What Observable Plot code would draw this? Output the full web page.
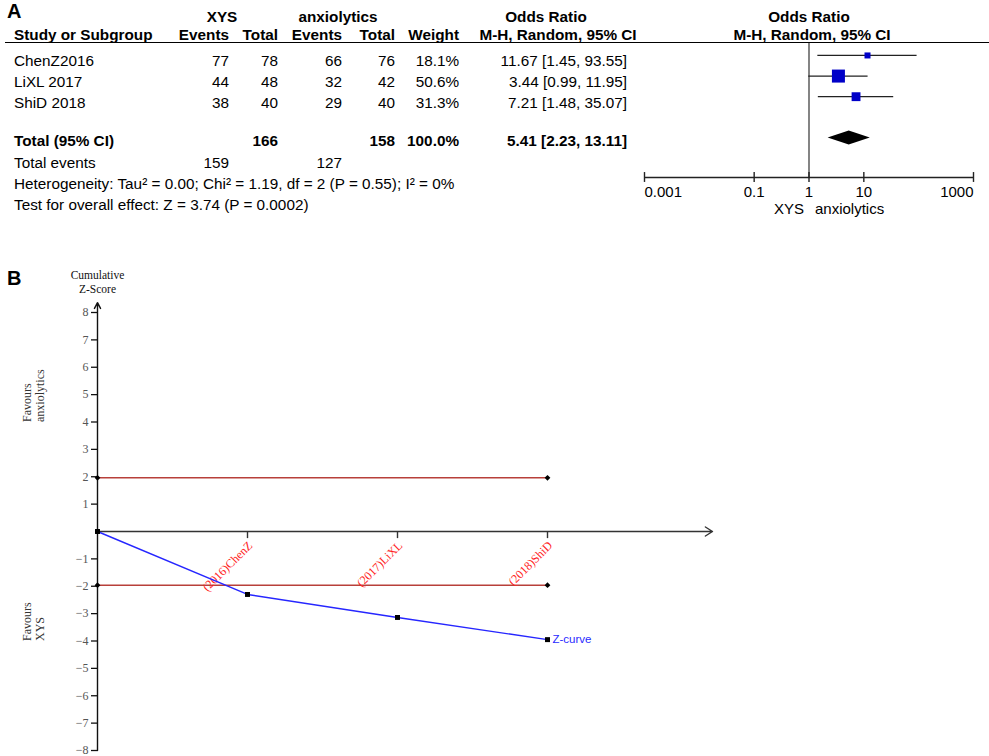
<!DOCTYPE html>
<html><head><meta charset="utf-8">
<script src="https://cdn.jsdelivr.net/npm/d3@7"></script>
<script src="https://cdn.jsdelivr.net/npm/@observablehq/plot@0.6"></script>
<style>
html,body{margin:0;padding:0;background:#fff;}
#root{position:relative;width:989px;height:756px;overflow:hidden;font-family:"Liberation Sans",Arial,sans-serif;color:#000;}
.t{position:absolute;white-space:nowrap;line-height:1;}
</style></head><body><div id="root"></div>
<script>
// ---------- Panel A data ----------
const studies = ["ChenZ2016", "LiXL 2017", "ShiD 2018"];
const xysEvents = [77, 44, 38];
const xysTotal = [78, 48, 40];
const anxEvents = [66, 32, 29];
const anxTotal = [76, 42, 40];
const weights = [18.1, 50.6, 31.3];
const orEst = [11.67, 3.44, 7.21];
const orLow = [1.45, 0.99, 1.48];
const orHigh = [93.55, 11.95, 35.07];
const pooledOR = 5.41, pooledLow = 2.23, pooledHigh = 13.11;
const totalN = [166, 158];
const totalEvents = [159, 127];
const tau2 = "0.00", chi2 = "1.19", dfHet = 2, pHet = "0.55", i2 = "0%";
const zOverall = "3.74", pOverall = "0.0002";
const forestTicks = [0.001, 0.1, 1, 10, 1000];
const forestTickLabels = ["0.001", "0.1", "1", "10", "1000"];
const favourLabels = ["XYS", "anxiolytics"];

// ---------- Panel B data ----------
const tsaLabels = ["(2016)ChenZ", "(2017)LiXL", "(2018)ShiD"];
const zCurve = [0, -2.30, -3.14, -3.95];
const zBoundary = [1.96, -1.96];
const zTicks = [8, 7, 6, 5, 4, 3, 2, 1, -1, -2, -3, -4, -5, -6, -7, -8];
const sideLabels = ["Favours\nanxiolytics", "Favours\nXYS"];

// ---------- helpers ----------
const root = document.getElementById("root");
function put(txt, x, base, o = {}) {
  const size = o.size ?? 15.3;
  const d = document.createElement("div");
  d.className = "t";
  d.textContent = txt;
  d.style.fontSize = size + "px";
  if (o.bold) d.style.fontWeight = "bold";
  if (o.family) d.style.fontFamily = o.family;
  if (o.color) d.style.color = o.color;
  d.style.top = (base - 0.8465 * size) + "px";
  const a = o.anchor ?? "start";
  if (a === "end") d.style.right = (989 - x) + "px";
  else { d.style.left = x + "px"; if (a === "middle") d.style.transform = "translateX(-50%)"; }
  root.appendChild(d);
}
function place(el, left, top) {
  el.style.position = "absolute";
  el.style.left = left + "px";
  el.style.top = top + "px";
  el.style.maxWidth = "none";
  root.appendChild(el);
}
const f2 = d3.format(".2f"), f1 = d3.format(".1f");

// ---------- Panel A table ----------
put("A", 7, 18, {bold: true, size: 20});
put("XYS", 222, 22, {bold: true, anchor: "middle"});
put("anxiolytics", 338, 22, {bold: true, anchor: "middle"});
put("Odds Ratio", 546, 22, {bold: true, anchor: "middle"});
put("Odds Ratio", 809, 22, {bold: true, anchor: "middle"});
put("Study or Subgroup", 14, 40, {bold: true});
const colRight = [229, 278, 342, 395, 459, 627];
["Events", "Total", "Events", "Total", "Weight"].forEach((h, i) => put(h, colRight[i], 40, {bold: true, anchor: "end"}));
put("M-H, Random, 95% CI", 558, 40, {bold: true, anchor: "middle"});
put("M-H, Random, 95% CI", 812, 40, {bold: true, anchor: "middle"});
const hl = document.createElement("div");
hl.style.cssText = "position:absolute;left:5px;top:42px;width:984px;height:0;border-top:1.4px solid #000;";
root.appendChild(hl);

const rowBase = [66, 87, 107.5];
studies.forEach((s, i) => {
  const b = rowBase[i];
  put(s, 14, b);
  put(String(xysEvents[i]), colRight[0], b, {anchor: "end"});
  put(String(xysTotal[i]), colRight[1], b, {anchor: "end"});
  put(String(anxEvents[i]), colRight[2], b, {anchor: "end"});
  put(String(anxTotal[i]), colRight[3], b, {anchor: "end"});
  put(f1(weights[i]) + "%", colRight[4], b, {anchor: "end"});
  put(`${f2(orEst[i])} [${f2(orLow[i])}, ${f2(orHigh[i])}]`, colRight[5], b, {anchor: "end"});
});
put("Total (95% CI)", 14, 146, {bold: true});
put(String(totalN[0]), colRight[1], 146, {bold: true, anchor: "end"});
put(String(totalN[1]), colRight[3], 146, {bold: true, anchor: "end"});
put(f1(d3.sum(weights)) + "%", colRight[4], 146, {bold: true, anchor: "end"});
put(`${f2(pooledOR)} [${f2(pooledLow)}, ${f2(pooledHigh)}]`, colRight[5], 146, {bold: true, anchor: "end"});
put("Total events", 14, 168);
put(String(totalEvents[0]), colRight[0], 168, {anchor: "end"});
put(String(totalEvents[1]), colRight[2], 168, {anchor: "end"});
put(`Heterogeneity: Tau\u00b2 = ${tau2}; Chi\u00b2 = ${chi2}, df = ${dfHet} (P = ${pHet}); I\u00b2 = ${i2}`, 14, 189);
put(`Test for overall effect: Z = ${zOverall} (P = ${pOverall})`, 14, 210);

// ---------- Panel A forest plot ----------
const rowsData = studies.map((s, i) => ({study: s, row: i, est: orEst[i], lo: orLow[i], hi: orHigh[i], w: weights[i]}));
const totalRow = studies.length + 1;
const yTop = -0.58, yAxis = 5.92, dh = 0.34;
const diamond = [
  {x: pooledLow, y1: totalRow, y2: totalRow},
  {x: pooledOR, y1: totalRow - dh, y2: totalRow + dh},
  {x: pooledHigh, y1: totalRow, y2: totalRow}
];
const tickData = forestTicks.map((t, i) => ({t, label: forestTickLabels[i]}));
const n = tickData.length;
const tickText = (sub, anchor) => Plot.text(sub, {x: "t", y: yAxis, text: "label", textAnchor: anchor, dy: 19, lineAnchor: "bottom", fontSize: 15, fill: "#000"});
const forest = Plot.plot({
  width: 369, height: 182,
  marginLeft: 24, marginRight: 16, marginTop: 0, marginBottom: 48,
  x: {type: "log", domain: [forestTicks[0], forestTicks[n - 1]], axis: null},
  y: {domain: [yTop, yAxis], reverse: true, axis: null},
  r: {type: "linear", domain: [0, d3.max(weights)], range: [1.2, 7.34]},
  style: {fontFamily: "Liberation Sans, Arial, sans-serif", fontSize: "15px", background: "transparent", overflow: "visible", color: "#000"},
  marks: [
    Plot.ruleX([1], {stroke: "#333", strokeWidth: 1.2}),
    Plot.ruleY([yAxis], {stroke: "#222", strokeWidth: 1.4}),
    Plot.ruleX(forestTicks, {x: d => d, y1: yAxis - 0.24, y2: yAxis + 0.24, stroke: "#222", strokeWidth: 1.4}),
    tickText(tickData.slice(0, 1), "start"),
    tickText(tickData.slice(1, n - 1), "middle"),
    tickText(tickData.slice(n - 1), "end"),
    Plot.text(favourLabels.slice(0, 1), {x: 1, y: yAxis, text: d => d, textAnchor: "end", dx: -5, dy: 36, lineAnchor: "bottom", fontSize: 15}),
    Plot.text(favourLabels.slice(1), {x: 1, y: yAxis, text: d => d, textAnchor: "start", dx: 6, dy: 36, lineAnchor: "bottom", fontSize: 15}),
    Plot.ruleY(rowsData, {y: "row", x1: "lo", x2: "hi", stroke: "#222", strokeWidth: 1.2}),
    Plot.dot(rowsData, {x: "est", y: "row", r: "w", symbol: "square", fill: "#0000c8", stroke: null}),
    Plot.areaY(diamond, {x: "x", y1: "y1", y2: "y2", fill: "#000"})
  ]
});
place(forest, 620, 43);

// ---------- Panel B ----------
put("B", 7, 285, {bold: true, size: 20});
const curve = zCurve.map((z, i) => ({x: i, z}));
const tsaData = tsaLabels.map((l, i) => ({x: i + 1, label: l}));
const xLast = tsaData[tsaData.length - 1].x;
const xEnd = 4.1;
const bMarkers = zBoundary.flatMap(z => [{x: 0, z}, {x: xLast, z}]);
const B = Plot.plot({
  width: 760, height: 496,
  marginLeft: 97, marginRight: 48, marginTop: 52, marginBottom: 6,
  x: {domain: [0, xEnd], axis: null},
  y: {domain: [-8, 8], axis: null},
  style: {fontFamily: "Liberation Serif, Times New Roman, serif", fontSize: "11px", background: "transparent", overflow: "visible", color: "#000"},
  marks: [
    Plot.axisY({ticks: zTicks, tickSize: 6, tickPadding: 3, stroke: "#111", fill: "#555", fontSize: 12,
      tickFormat: d => d < 0 ? "\u2212" + (-d) : String(d), strokeWidth: 1.3}),
    Plot.arrow([{x1: 0, y1: -8, x2: 0, y2: 8.36}], {x1: "x1", y1: "y1", x2: "x2", y2: "y2", stroke: "#111", strokeWidth: 1.4, headLength: 7, headAngle: 55}),
    Plot.arrow([{x1: 0, y1: 0, x2: xEnd, y2: 0}], {x1: "x1", y1: "y1", x2: "x2", y2: "y2", stroke: "#333", strokeWidth: 1.4, headLength: 9, headAngle: 65}),
    Plot.ruleX(tsaData, {x: "x", y1: 0, y2: -0.26, stroke: "#333", strokeWidth: 1.4}),
    Plot.text(["Cumulative\nZ-Score"], {frameAnchor: "top-left", text: d => d, textAnchor: "middle", lineAnchor: "bottom", dy: -20, lineHeight: 1.18, fontSize: 11.5, fill: "#111"}),
    Plot.text(sideLabels, {frameAnchor: "left", y: (d, i) => i === 0 ? 4 : -4, text: d => d, rotate: -90, dx: -64, lineAnchor: "middle", lineHeight: 1.05, fontSize: 12, fill: "#333"}),
    Plot.ruleY(zBoundary, {x1: 0, x2: xLast, stroke: "#b8403a", strokeWidth: 1.5}),
    Plot.dot(bMarkers, {x: "x", y: "z", symbol: "diamond2", r: 2.6, fill: "#000", stroke: null}),
    Plot.text(tsaData, {x: "x", y: 0, text: "label", rotate: -45, textAnchor: "end", lineAnchor: "middle", dx: 3, dy: 12, fontSize: 12, fill: "#f22"}),
    Plot.line(curve, {x: "x", y: "z", stroke: "#2626ff", strokeWidth: 1.4}),
    Plot.dot(curve, {x: "x", y: "z", symbol: "square", r: 2.8, fill: "#000", stroke: null}),
    Plot.text(curve.slice(-1), {x: "x", y: "z", text: () => "Z-curve", textAnchor: "start", dx: 5, fontFamily: "Liberation Sans, Arial, sans-serif", fontSize: 11.5, fill: "#2a2aff"})
  ]
});
place(B, 0, 260);
</script>
</body></html>
